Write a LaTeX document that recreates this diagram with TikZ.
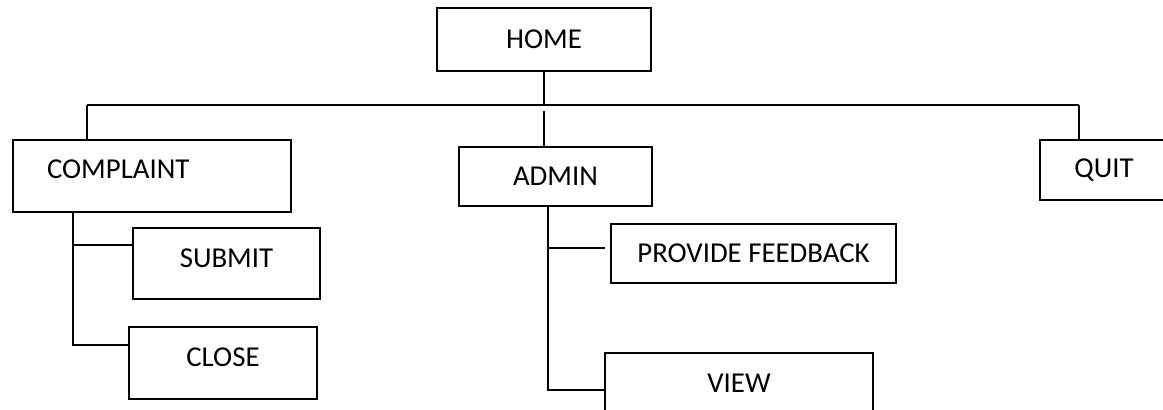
\documentclass[tikz,border=0pt]{standalone}
\usepackage{fontspec}
\setmainfont{Carlito}
\usetikzlibrary{positioning}

\begin{document}
\begin{tikzpicture}[line width=0.8pt, nodes={draw, rectangle, inner sep=0pt, outer sep=0pt, font=\fontsize{20.5}{24}\selectfont}]
		\useasboundingbox (0,0) rectangle (29.075,-10.25);
		\node (home) [minimum width=5.35cm, minimum height=1.575cm] at (13.6,-0.9875) {HOME};
		\node (cmp) [anchor=north west, align=left, inner xsep=0.85cm, text width=5.25cm, text height=0.95cm, text depth=0.85cm] at (0.325,-3.5) {COMPLAINT};
		\node (quit) [anchor=north west, minimum width=3.2cm, minimum height=1.5cm] at (26,-3.5) {QUIT};
		\node (adm) [below=1.9cm of home, xshift=0.2875cm, minimum width=4.825cm, minimum height=1.475cm] {ADMIN};
		\node (sub) [below right=0.4cm and 3cm of cmp.south west, minimum width=4.675cm, minimum height=1.775cm, text depth=0.28cm] {SUBMIT};
		\node (cls) [below right=0.7cm and -0.1cm of sub.south west, minimum width=4.7cm, minimum height=1.8cm, text depth=0.3cm] {CLOSE};
		\node (fb) [below right=0.45cm and 3.8cm of adm.south west, minimum width=7.125cm, minimum height=1.475cm] {PROVIDE FEEDBACK};
		\node (view) [below right=1.75cm and -0.15cm of fb.south west, minimum width=6.7cm, minimum height=1.5cm] {VIEW};
		\coordinate (busl) at (2.175,-2.625);
		\coordinate (busr) at (26.975,-2.625);
		\coordinate (ctrunk) at ([xshift=1.5cm]cmp.south west);
		\coordinate (atrunk) at ([xshift=2.225cm]adm.south west);
		\coordinate (fbend) at ([shift={(-0.15cm,0.1375cm)}]fb.west);
		\draw (busl) -- (busr);
		\draw (home.south) -- (home.south |- busl);
		\draw ([yshift=-0.15cm]home.south |- busl) -- (home.south |- adm.north);
		\draw (busl) -- (busl |- cmp.north);
		\draw (busr) -- (busr |- quit.north);
		\draw (ctrunk) |- ([yshift=0.45cm]cls.west);
		\draw ([yshift=0.4625cm]sub.west) -| (ctrunk);
		\draw (atrunk) |- ([yshift=-0.175cm]view.west);
		\draw (fbend) -- (atrunk |- fbend);
\end{tikzpicture}
\end{document}
